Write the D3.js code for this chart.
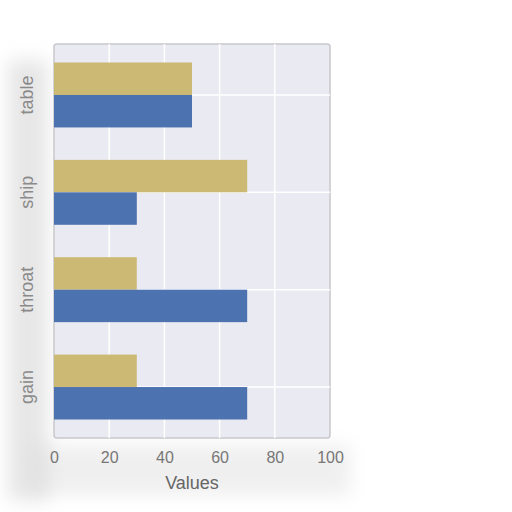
<!DOCTYPE html>
<html>
<head>
<meta charset="utf-8">
<script src="https://cdn.jsdelivr.net/npm/d3@7"></script>
<style>
  body { margin: 0; background: #fff; }
  svg { display: block; font-family: "Liberation Sans", Arial, sans-serif; }
</style>
</head>
<body>
<svg id="chart" width="512" height="512"></svg>
<script>
// data
const categories = ['table', 'ship', 'throat', 'gain']
const seriesTop = [50, 70, 30, 30]     // tan bars
const seriesBottom = [50, 30, 70, 70]  // blue bars
const xTicks = [0, 20, 40, 60, 80, 100]

const margin = {top: 44, right: 182, bottom: 74, left: 54}
const width = 512 - margin.left - margin.right
const height = 512 - margin.top - margin.bottom

const svg = d3.select('#chart')

// soft shadow round the photo'd plot
const defs = svg.append('defs')
defs.append('filter').attr('id', 'blur')
  .attr('x', '-50%').attr('y', '-50%').attr('width', '200%').attr('height', '200%')
  .append('feGaussianBlur').attr('stdDeviation', 9)

svg.append('rect')
  .attr('x', 8).attr('y', 60).attr('width', 40).attr('height', 440)
  .attr('fill', '#cfcfcf').attr('opacity', 0.5).attr('filter', 'url(#blur)')
svg.append('rect')
  .attr('x', 30).attr('y', 445).attr('width', 320).attr('height', 50)
  .attr('fill', '#d8d8d8').attr('opacity', 0.4).attr('filter', 'url(#blur)')

const g = svg.append('g').attr('transform', `translate(${margin.left},${margin.top})`)

const x = d3.scaleLinear().domain([0, 100]).range([0, width])
const y = d3.scaleBand().domain(categories).range([0, height])
  .paddingInner(0.333).paddingOuter(0.19)

// plot background
g.append('rect')
  .attr('width', width).attr('height', height)
  .attr('rx', 3)
  .attr('fill', '#eaeaf2')
  .attr('stroke', '#c8c8cc').attr('stroke-width', 1.5)

// vertical grid
g.append('g')
  .selectAll('line')
  .data(xTicks.slice(1, -1))
  .join('line')
  .attr('x1', d => x(d)).attr('x2', d => x(d))
  .attr('y1', 0).attr('y2', height)
  .attr('stroke', '#fff').attr('stroke-width', 1.5)

// horizontal grid at category centres
g.append('g')
  .selectAll('line')
  .data(categories)
  .join('line')
  .attr('x1', 0).attr('x2', width)
  .attr('y1', d => y(d) + y.bandwidth() / 2)
  .attr('y2', d => y(d) + y.bandwidth() / 2)
  .attr('stroke', '#fff').attr('stroke-width', 1.5)

const half = y.bandwidth() / 2

g.append('g')
  .selectAll('rect')
  .data(categories)
  .join('rect')
  .attr('x', x(0))
  .attr('y', d => y(d))
  .attr('width', (d, i) => x(seriesTop[i]) - x(0))
  .attr('height', half)
  .attr('fill', '#ccb974')

g.append('g')
  .selectAll('rect')
  .data(categories)
  .join('rect')
  .attr('x', x(0))
  .attr('y', d => y(d) + half)
  .attr('width', (d, i) => x(seriesBottom[i]) - x(0))
  .attr('height', half)
  .attr('fill', '#4c72b0')

// x axis
const xAxis = g.append('g')
  .attr('transform', `translate(0,${height})`)
  .call(d3.axisBottom(x).tickValues(xTicks).tickSize(0).tickPadding(14))
xAxis.select('.domain').remove()
xAxis.selectAll('text').attr('fill', '#777').style('font-size', '16px')

g.append('text')
  .attr('x', x(50)).attr('y', height + 51)
  .attr('text-anchor', 'middle')
  .attr('fill', '#666').style('font-size', '18px')
  .text('Values')

// y axis, rotated labels
g.append('g')
  .selectAll('text')
  .data(categories)
  .join('text')
  .attr('transform', d => `translate(-27,${y(d) + half}) rotate(-90)`)
  .attr('text-anchor', 'middle')
  .attr('dy', '0.35em')
  .attr('fill', '#8a8a8a').style('font-size', '18px')
  .text(d => d)
</script>
</body>
</html>
